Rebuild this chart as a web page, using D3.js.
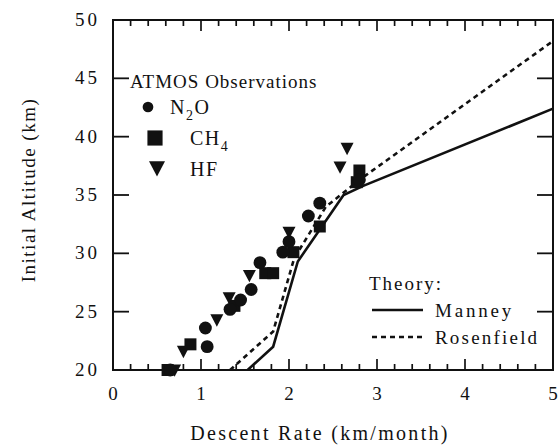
<!DOCTYPE html>
<html>
<head>
<meta charset="utf-8">
<script src="https://cdn.jsdelivr.net/npm/d3@7"></script>
<style>
  html, body { margin: 0; padding: 0; background: #fff; }
  .lbl { font-family: "Liberation Serif", "Times New Roman", serif; fill: #111; }
</style>
</head>
<body>
<svg id="chart" width="560" height="448"></svg>
<script>
// ATMOS observations: descent rate (km/month) vs initial altitude (km)
const n2oRate = [0.65, 1.05, 1.07, 1.33, 1.45, 1.57, 1.67, 1.93, 2.00, 2.22, 2.35, 2.80];
const n2oAlt  = [20.0, 23.6, 22.0, 25.2, 26.0, 26.9, 29.2, 30.1, 31.0, 33.2, 34.3, 36.3];

const ch4Rate = [0.62, 0.88, 1.38, 1.73, 1.82, 2.05, 2.35, 2.77, 2.80];
const ch4Alt  = [20.0, 22.2, 25.5, 28.3, 28.3, 30.1, 32.3, 36.1, 37.1];

const hfRate = [0.70, 0.80, 1.18, 1.32, 1.55, 2.00, 2.58, 2.66];
const hfAlt  = [20.0, 21.6, 24.3, 26.2, 28.1, 31.8, 37.4, 39.0];

// Theoretical curves
const manneyRate = [1.53, 1.82, 2.10, 2.62, 2.85, 5.00];
const manneyAlt  = [20.0, 22.0, 29.3, 35.0, 35.8, 42.4];

const rosenRate = [1.33, 1.82, 2.06, 2.42, 2.82, 5.00];
const rosenAlt  = [20.0, 23.3, 29.6, 34.0, 36.4, 48.2];

// Axis ticks
const xTicks = [0, 1, 2, 3, 4, 5];
const yTicks = [20, 25, 30, 35, 40, 45, 50];

const svg = d3.select("#chart");
const box = { l: 113, r: 553, t: 20, b: 370 };
const ink = "#111";

const xs = d3.scaleLinear().domain([0, 5]).range([box.l, box.r]);
const ys = d3.scaleLinear().domain([20, 50]).range([box.b, box.t]);

const xMinor = d3.range(1, 25).map(i => i / 5);
const yInner = yTicks.filter(v => v > 20 && v < 50);

// Tick labels
svg.append("g").selectAll("text").data(xTicks).join("text")
  .attr("class", "lbl")
  .attr("x", d => xs(d)).attr("y", 400)
  .attr("text-anchor", "middle")
  .attr("font-size", 19)
  .text(d => d);

svg.append("g").selectAll("text").data(yTicks).join("text")
  .attr("class", "lbl")
  .attr("x", 100).attr("y", d => ys(d) + 6)
  .attr("text-anchor", "end")
  .attr("font-size", 19).attr("letter-spacing", 3)
  .text(d => d);

// Axis titles
svg.append("text").attr("class", "lbl")
  .attr("x", 320).attr("y", 440)
  .attr("text-anchor", "middle")
  .attr("font-size", 20).attr("letter-spacing", 2.3)
  .text("Descent Rate (km/month)");

svg.append("text").attr("class", "lbl")
  .attr("transform", "translate(35,190) rotate(-90)")
  .attr("text-anchor", "middle")
  .attr("font-size", 19).attr("letter-spacing", 1.5)
  .text("Initial Altitude (km)");

// Theory curves
const curve = d3.line().x(d => xs(d[0])).y(d => ys(d[1]));
const plot = svg.append("g");

plot.append("path")
  .attr("d", curve(d3.zip(manneyRate, manneyAlt)))
  .attr("fill", "none").attr("stroke", ink).attr("stroke-width", 2.6);

plot.append("path")
  .attr("d", curve(d3.zip(rosenRate, rosenAlt)))
  .attr("fill", "none").attr("stroke", ink).attr("stroke-width", 2.6)
  .attr("stroke-dasharray", "5,4");

// Observation markers
const circleSym = d3.symbol().type(d3.symbolCircle).size(130);
const squareSym = d3.symbol().type(d3.symbolSquare).size(144);
const triPath = s => {
  const h = s * 0.5;
  return `M${-h},${-h * 0.85}L${h},${-h * 0.85}L0,${h * 1.05}Z`;
};

plot.append("g").selectAll("path").data(d3.zip(ch4Rate, ch4Alt)).join("path")
  .attr("transform", d => `translate(${xs(d[0])},${ys(d[1])})`)
  .attr("d", squareSym).attr("fill", ink);

plot.append("g").selectAll("path").data(d3.zip(hfRate, hfAlt)).join("path")
  .attr("transform", d => `translate(${xs(d[0])},${ys(d[1])})`)
  .attr("d", triPath(13)).attr("fill", ink);

plot.append("g").selectAll("path").data(d3.zip(n2oRate, n2oAlt)).join("path")
  .attr("transform", d => `translate(${xs(d[0])},${ys(d[1])})`)
  .attr("d", circleSym).attr("fill", ink);

// Frame edges, each drawn as its own line
const edges = [
  [box.l, box.t, box.r, box.t],
  [box.l, box.b, box.r, box.b],
  [box.l, box.t, box.l, box.b],
  [box.r, box.t, box.r, box.b]
];
edges.forEach(e => {
  plot.append("line")
    .attr("x1", e[0]).attr("y1", e[1]).attr("x2", e[2]).attr("y2", e[3])
    .attr("stroke", ink).attr("stroke-width", 2).attr("stroke-linecap", "square");
});

// Inward ticks: minor every 0.2 on top/bottom (longer at integers), 5 km on sides
xMinor.forEach(d => {
  const len = d % 1 === 0 ? 11 : 6;
  plot.append("line").attr("x1", xs(d)).attr("x2", xs(d))
    .attr("y1", box.b).attr("y2", box.b - len)
    .attr("stroke", ink).attr("stroke-width", 1.7);
  plot.append("line").attr("x1", xs(d)).attr("x2", xs(d))
    .attr("y1", box.t).attr("y2", box.t + len)
    .attr("stroke", ink).attr("stroke-width", 1.7);
});
yInner.forEach(d => {
  plot.append("line").attr("x1", box.l).attr("x2", box.l + 16)
    .attr("y1", ys(d)).attr("y2", ys(d))
    .attr("stroke", ink).attr("stroke-width", 1.8);
  plot.append("line").attr("x1", box.r).attr("x2", box.r - 16)
    .attr("y1", ys(d)).attr("y2", ys(d))
    .attr("stroke", ink).attr("stroke-width", 1.8);
});

// Observation legend
const leg = svg.append("g");
leg.append("text").attr("class", "lbl").attr("x", 130).attr("y", 88).attr("font-size", 19)
  .attr("letter-spacing", 1).text("ATMOS Observations");

leg.append("path").attr("transform", "translate(148,107)")
  .attr("d", d3.symbol().type(d3.symbolCircle).size(90)).attr("fill", ink);
const t1 = leg.append("text").attr("class", "lbl").attr("x", 170).attr("y", 114)
  .attr("font-size", 20).attr("letter-spacing", 1.5);
t1.append("tspan").text("N");
t1.append("tspan").attr("dy", 6).attr("font-size", 14).text("2");
t1.append("tspan").attr("dy", -6).text("O");

leg.append("path").attr("transform", "translate(155,138)")
  .attr("d", d3.symbol().type(d3.symbolSquare).size(230)).attr("fill", ink);
const t2 = leg.append("text").attr("class", "lbl").attr("x", 190).attr("y", 145)
  .attr("font-size", 20).attr("letter-spacing", 1.5);
t2.append("tspan").text("CH");
t2.append("tspan").attr("dy", 6).attr("font-size", 14).text("4");

leg.append("path").attr("transform", "translate(157,168)")
  .attr("d", triPath(16)).attr("fill", ink);
leg.append("text").attr("class", "lbl").attr("x", 190).attr("y", 176)
  .attr("font-size", 20).attr("letter-spacing", 1.5).text("HF");

// Theory legend
const tl = svg.append("g");
tl.append("text").attr("class", "lbl").attr("font-size", 19).attr("x", 369).attr("y", 290)
  .attr("letter-spacing", 2).text("Theory:");
tl.append("line").attr("x1", 372).attr("x2", 423).attr("y1", 310).attr("y2", 310)
  .attr("stroke", ink).attr("stroke-width", 2.4);
tl.append("text").attr("class", "lbl").attr("font-size", 19).attr("x", 435).attr("y", 317)
  .attr("letter-spacing", 2.8).text("Manney");
tl.append("line").attr("x1", 372).attr("x2", 423).attr("y1", 337).attr("y2", 337)
  .attr("stroke", ink).attr("stroke-width", 2.4).attr("stroke-dasharray", "5,4");
tl.append("text").attr("class", "lbl").attr("font-size", 19).attr("x", 435).attr("y", 344)
  .attr("letter-spacing", 2.2).text("Rosenfield");
</script>
</body>
</html>
